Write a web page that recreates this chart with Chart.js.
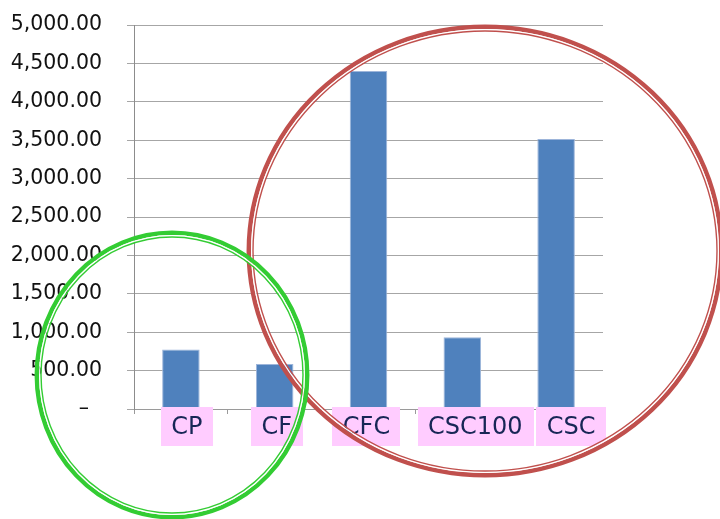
<!DOCTYPE html>
<html>
<head>
<meta charset="utf-8">
<script src="https://cdn.jsdelivr.net/npm/chart.js@4/dist/chart.umd.min.js"></script>
<style>
  html, body { margin: 0; padding: 0; background: #fff; }
  #wrap { width: 720px; height: 519px; position: relative; }
</style>
</head>
<body>
<div id="wrap"><canvas id="cost-chart"></canvas></div>
<script>
// Sample groups and their totals
const categories = ['CP', 'CF', 'CFC', 'CSC100', 'CSC'];
const totals = [775, 585, 4400, 935, 3515];

// Value axis range
const yMin = 0;
const yMax = 5000;
const yStep = 500;

// Horizontal nudge of each pink label box from its bar centre (px)
const boxShift = [6, 2, -2, 13, 15];

const FONT = '"DejaVu Sans", Verdana, sans-serif';

function fmtTick(v) {
    if (v === 0) return '\u2013  ';
    return v.toLocaleString('en-US', { minimumFractionDigits: 2, maximumFractionDigits: 2 });
}

// Category names drawn in pink boxes below the axis
const labelBoxes = {
    id: 'labelBoxes',
    afterDatasetsDraw(chart) {
        const ctx = chart.ctx;
        const x = chart.scales.x;
        const top = chart.chartArea.bottom - 2;
        const h = 39;
        ctx.save();
        ctx.font = '24px ' + FONT;
        ctx.textBaseline = 'middle';
        ctx.textAlign = 'center';
        categories.forEach((c, i) => {
            const cx = x.getPixelForValue(i) + boxShift[i];
            const w = ctx.measureText(c).width + 21;
            ctx.fillStyle = '#ffccff';
            ctx.fillRect(Math.round(cx - w / 2), top, Math.round(w), h);
            ctx.fillStyle = '#172656';
            ctx.fillText(c, cx, top + h / 2 + 1);
        });
        ctx.restore();
    }
};

// Hand-drawn style double-outline ellipses
const highlightRings = {
    id: 'highlightRings',
    afterDraw(chart) {
        const ctx = chart.ctx;
        const rings = [
            { cx: 485, cy: 251, rx: 235, ry: 223, color: '#c0504d' },
            { cx: 172, cy: 375, rx: 134, ry: 141, color: '#33cc33' }
        ];
        ctx.save();
        rings.forEach(r => {
            ctx.strokeStyle = r.color;
            ctx.lineWidth = 4.5;
            ctx.beginPath();
            ctx.ellipse(r.cx, r.cy, r.rx + 1.2, r.ry + 1.2, 0, 0, Math.PI * 2);
            ctx.stroke();
            ctx.strokeStyle = '#ffffff';
            ctx.lineWidth = 1.2;
            ctx.beginPath();
            ctx.ellipse(r.cx, r.cy, r.rx - 1.6, r.ry - 1.6, 0, 0, Math.PI * 2);
            ctx.stroke();
            ctx.strokeStyle = r.color;
            ctx.lineWidth = 1.4;
            ctx.beginPath();
            ctx.ellipse(r.cx, r.cy, r.rx - 3, r.ry - 3, 0, 0, Math.PI * 2);
            ctx.stroke();
        });
        ctx.restore();
    }
};

const chart = new Chart(document.getElementById('cost-chart').getContext('2d'), {
    type: 'bar',
    data: {
        labels: categories,
        datasets: [{
            data: totals,
            backgroundColor: '#4f81bd',
            borderColor: '#9db5da',
            borderWidth: 1,
            barPercentage: 0.4,
            categoryPercentage: 1.0
        }]
    },
    options: {
        responsive: true,
        maintainAspectRatio: false,
        animation: false,
        layout: { padding: { top: 25, right: 117, bottom: 0, left: 0 } },
        plugins: {
            legend: { display: false },
            tooltip: { enabled: false }
        },
        scales: {
            x: {
                grid: {
                    offset: true,
                    drawOnChartArea: false,
                    tickLength: 5,
                    color: '#9a9a9a'
                },
                border: { color: '#9a9a9a' },
                ticks: { display: false },
                afterFit: s => { s.height = 110; }
            },
            y: {
                min: yMin,
                max: yMax,
                ticks: {
                    stepSize: yStep,
                    padding: 25,
                    color: '#111111',
                    font: { family: FONT, size: 20.5 },
                    callback: v => fmtTick(v)
                },
                grid: {
                    color: '#a6a6a6',
                    tickLength: 7
                },
                border: { color: '#8c8c8c' },
                afterFit: s => {
                    s.width = 134;
                    s.paddingTop = 12;
                    s.paddingBottom = 12;
                }
            }
        }
    },
    plugins: [labelBoxes, highlightRings]
});
</script>
</body>
</html>
